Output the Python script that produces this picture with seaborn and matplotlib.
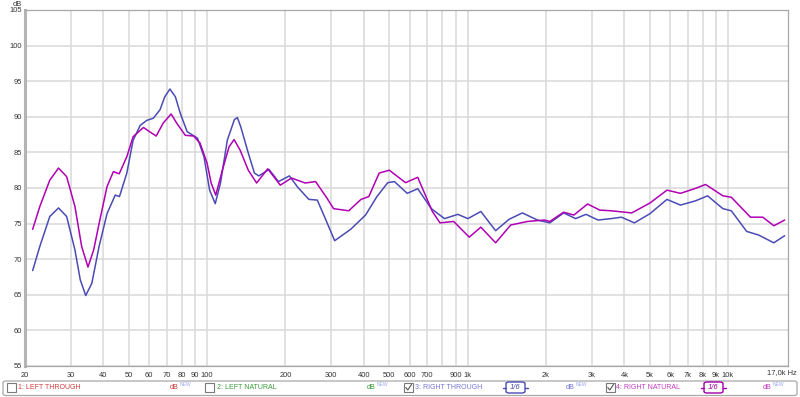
import numpy as np
import pandas as pd
import matplotlib
matplotlib.use("Agg")
import matplotlib.pyplot as plt
import seaborn as sns
from matplotlib.patches import Rectangle, FancyBboxPatch
from matplotlib.lines import Line2D

# ---------------- data ----------------
through_freq = [21.4, 22.8, 24.9, 26.9, 28.9, 31.1, 32.6, 34.2, 36.1, 38.5, 41.3, 44.4,
                46.1, 49.2, 52.0, 55.4, 58.7, 62.2, 66.0, 68.8, 72.0, 75.6, 78.9, 83.9,
                91.9, 97.3, 102.3, 107.5, 112.6, 119.6, 127.3, 130.7, 134.7, 144, 152,
                158, 173, 188, 207, 223, 246, 265, 286, 309, 356, 406, 449, 494, 524,
                587, 644, 726, 816, 918, 1003, 1125, 1282, 1443, 1624, 1855, 2070, 2340,
                2600, 2850, 3170, 3560, 3900, 4370, 5020, 5830, 6570, 7510, 8350, 9560,
                10300, 11800, 13100, 15000, 16500]
through_db = [68.4, 71.8, 76.0, 77.2, 76.0, 71.3, 67.1, 64.9, 66.6, 71.8, 76.4, 79.0,
              78.8, 82.1, 86.7, 88.8, 89.5, 89.8, 91.0, 92.8, 93.9, 92.8, 90.5, 87.9,
              87.0, 84.4, 79.7, 77.8, 80.7, 86.7, 89.6, 89.9, 88.6, 84.9, 82.1,
              81.7, 82.6, 80.9, 81.7, 80.1, 78.4, 78.3, 75.5, 72.6, 74.2, 76.2, 78.8, 80.75, 80.9,
              79.25, 79.9, 77.1, 75.7, 76.3, 75.7, 76.7, 74.0, 75.6, 76.5, 75.5, 75.1, 76.5,
              75.7, 76.3, 75.5, 75.7, 75.9, 75.1, 76.4, 78.4, 77.6, 78.2, 78.9, 77.1,
              76.8, 73.9, 73.4, 72.3, 73.3]

natural_freq = [21.4, 22.8, 24.9, 26.9, 28.9, 31.1, 33.0, 34.9, 36.7, 38.5, 41.3, 43.7,
                46.0, 49.2, 52.0, 57.0, 60.2, 63.8, 67.8, 72.8, 76.5, 82.5, 88.8, 94.0,
                100.0, 103.7, 108, 114.5, 121.5, 127, 134, 144, 155, 171, 191,
                211, 238, 261, 286, 306, 350, 390, 418, 458, 501, 578, 644, 733, 784, 885,
                1015, 1125, 1282, 1465, 1700, 1975, 2070, 2340, 2560, 2890, 3220, 3560,
                4270, 5020, 5830, 6570, 7510, 8200, 9560, 10300, 12200, 13600, 15000, 16500]
natural_db = [74.2, 77.4, 81.1, 82.8, 81.6, 77.4, 71.8, 68.9, 71.3, 75.0, 80.2, 82.3,
              82.0, 84.4, 87.2, 88.5, 87.9, 87.3, 89.1, 90.4, 89.1, 87.4, 87.3, 86.3,
              83.5, 80.7, 79.0, 82.5, 85.8, 86.8, 85.3, 82.5, 80.7, 82.7, 80.4,
              81.4, 80.7, 80.9, 78.8, 77.1, 76.8, 78.4, 78.8, 82.1, 82.5, 80.75, 81.5, 76.7, 75.1, 75.3,
              73.1, 74.5, 72.3, 74.8, 75.3, 75.5, 75.3, 76.6, 76.2, 77.75, 76.9, 76.8,
              76.5, 77.9, 79.7, 79.25, 79.95, 80.5, 78.9, 78.7, 75.9, 75.9, 74.7, 75.5]

x_ticks = [20, 30, 40, 50, 60, 70, 80, 90, 100, 200, 300, 400, 500, 600, 700, 800, 900,
           1000, 2000, 3000, 4000, 5000, 6000, 7000, 8000, 9000, 10000]
x_tick_labels = ["20", "30", "40", "50", "60", "70", "80", "90", "100", "200", "300", "400",
                 "500", "600", "700", "", "900", "1k", "2k", "3k", "4k", "5k", "6k", "7k",
                 "8k", "9k", "10k"]
y_ticks = [55, 60, 65, 70, 75, 80, 85, 90, 95, 100, 105]

legend_names = ["1: LEFT THROUGH", "2: LEFT NATURAL", "3: RIGHT THROUGH", "4: RIGHT NATURAL"]
legend_checked = [False, False, True, True]

# ---------------- styling ----------------
sns.set_style("white")
plt.rcParams["font.family"] = ["Liberation Sans", "DejaVu Sans"]

W, H = 800, 397
fig = plt.figure(figsize=(W / 100, H / 100), dpi=100)
fig.patch.set_facecolor("white")

def fx(px):
    return px / W

def fy(py):
    return 1 - py / H

L, R, T, B = 25, 788, 10, 366
ax = fig.add_axes([fx(L), fy(B), fx(R) - fx(L), fy(T) - fy(B)])

df = pd.concat([
    pd.DataFrame({"freq": through_freq, "spl": through_db, "series": "3: RIGHT THROUGH"}),
    pd.DataFrame({"freq": natural_freq, "spl": natural_db, "series": "4: RIGHT NATURAL"}),
])
curve_blue = "#4b4bb5"
curve_mag = "#b000b4"
sns.lineplot(data=df, x="freq", y="spl", hue="series",
             palette={"3: RIGHT THROUGH": curve_blue, "4: RIGHT NATURAL": curve_mag},
             estimator=None, sort=False, legend=False, linewidth=1.1, ax=ax, zorder=3)
for ln in ax.get_lines():
    ln.set_solid_joinstyle("round")

ax.set_xscale("log")
ax.set_xlim(20, 17000)
ax.set_ylim(55, 105)
ax.set_xticks(x_ticks)
ax.set_xticklabels(x_tick_labels)
ax.xaxis.set_minor_locator(matplotlib.ticker.NullLocator())
ax.set_yticks(y_ticks)
ax.set_xlabel("")
ax.set_ylabel("")
ax.grid(True, color="#d9d9d9", linewidth=1.1, zorder=0)
ax.tick_params(axis="both", length=0, labelsize=5.4, labelcolor="#333333")
ax.tick_params(axis="x", pad=4.3)
ax.tick_params(axis="y", pad=2.5)
for s in ["top", "bottom", "right"]:
    ax.spines[s].set_color("#a8a8a8")
    ax.spines[s].set_linewidth(0.9)
    ax.spines[s].set_visible(True)
ax.spines["left"].set_color("#b4b4b4")
ax.spines["left"].set_linewidth(2.2)
ax.spines["left"].set_visible(True)

fig.text(fx(17), fy(4), "dB", fontsize=5.4, color="#333333", ha="center", va="center")
fig.text(fx(797), fy(373), "17,0k Hz", fontsize=5.4, color="#333333", ha="right", va="center")

# ---------------- bottom legend bar ----------------
bar = FancyBboxPatch((fx(3), fy(395.5)), fx(794), fy(381) - fy(395.5),
                     boxstyle="round,pad=0,rounding_size=0.004",
                     transform=fig.transFigure, facecolor="white",
                     edgecolor="#a8a8a8", linewidth=0.9)
fig.add_artist(bar)

name_colors = ["#d03c3c", "#3c9c3c", "#7474d4", "#c03cc0"]
db_colors = ["#d03c3c", "#3c9c3c", "#7474d4", "#c03cc0"]
check_x = [7, 205, 404, 606]
name_x = [18, 217, 415, 616]
db_x = [170, 367, 566, 763]
frac_x = [None, None, 506, 704]
frac_colors = [None, None, curve_blue, "#a000a8"]
ymid = 387.5

for i in range(4):
    cb = Rectangle((fx(check_x[i]), fy(392)), fx(9), fy(383) - fy(392),
                   transform=fig.transFigure, facecolor="white",
                   edgecolor="#7a7a7a", linewidth=0.8)
    fig.add_artist(cb)
    if legend_checked[i]:
        cx = check_x[i]
        fig.add_artist(Line2D([fx(cx + 1.8), fx(cx + 3.8), fx(cx + 7.5)],
                              [fy(387.5), fy(390), fy(384.5)],
                              transform=fig.transFigure, color="#555555", linewidth=0.8))
    fig.text(fx(name_x[i]), fy(ymid), legend_names[i], fontsize=5.0,
             color=name_colors[i], ha="left", va="center")
    fig.text(fx(db_x[i]), fy(ymid), "dB", fontsize=5.2, color=db_colors[i],
             ha="left", va="center")
    fig.text(fx(db_x[i] + 10), fy(384.5), "NEW", fontsize=3.6, color="#a0a8f0",
             ha="left", va="center")
    if frac_x[i] is not None:
        x0 = frac_x[i]
        c = frac_colors[i]
        fig.add_artist(Line2D([fx(x0 - 3), fx(x0)], [fy(ymid), fy(ymid)],
                              transform=fig.transFigure, color=c, linewidth=1.0))
        fig.add_artist(Line2D([fx(x0 + 19), fx(x0 + 22)], [fy(ymid), fy(ymid)],
                              transform=fig.transFigure, color=c, linewidth=1.0))
        fb = FancyBboxPatch((fx(x0), fy(393)), fx(19), fy(382) - fy(393),
                            boxstyle="round,pad=0,rounding_size=0.004",
                            transform=fig.transFigure, facecolor="white",
                            edgecolor=c, linewidth=1.0)
        fig.add_artist(fb)
        fig.text(fx(x0 + 9.5), fy(ymid), "1/6", fontsize=5.6, color=c,
                 ha="center", va="center", fontstyle="italic")

fig.savefig("out.png", dpi=100, facecolor="white")
